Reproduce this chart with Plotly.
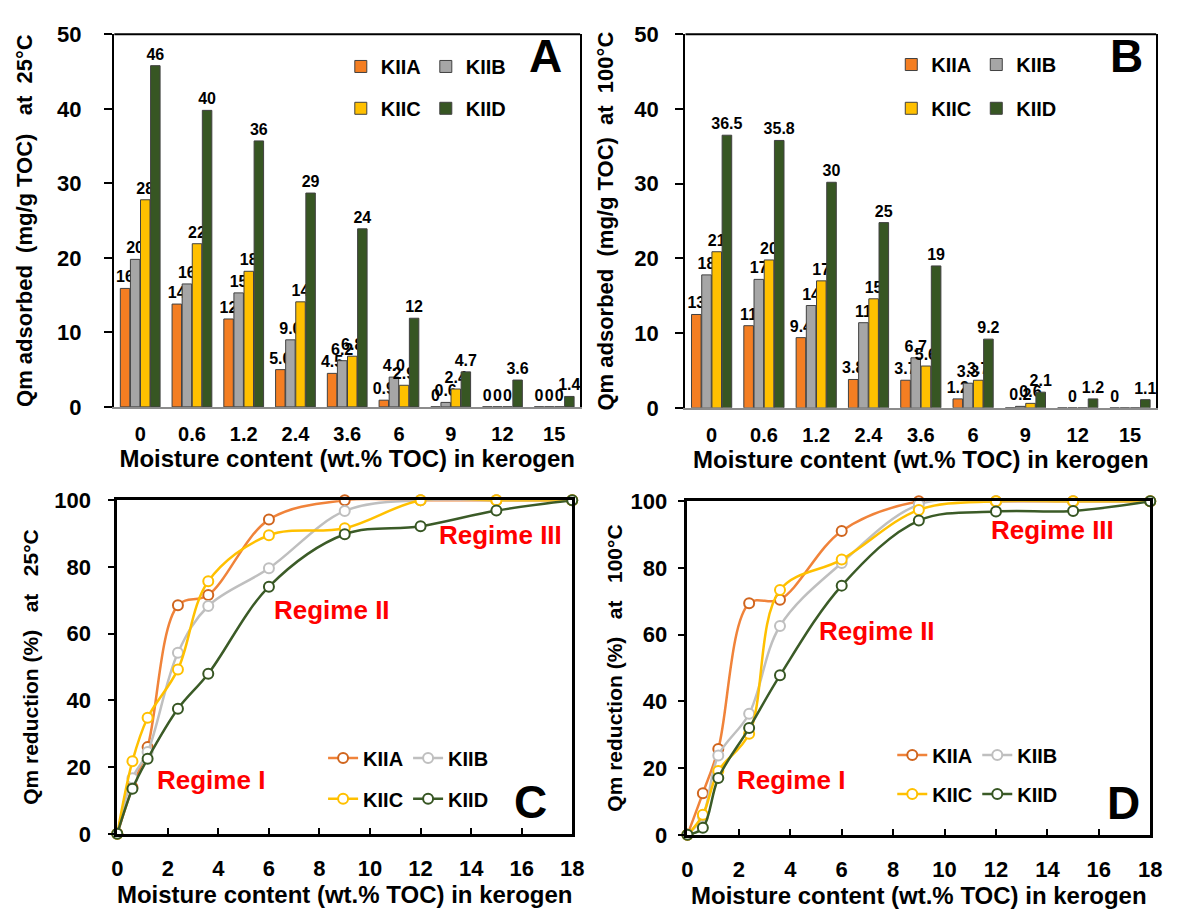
import plotly.graph_objects as go

# ---------------- data ----------------
moisture_cats = ["0", "0.6", "1.2", "2.4", "3.6", "6", "9", "12", "15"]
series_names = ["KIIA", "KIIB", "KIIC", "KIID"]

# Panel A: Qm adsorbed at 25 C (mg/g TOC)
qm25_KIIA = [15.9, 13.8, 11.8, 5.0, 4.5, 0.9, 0, 0, 0]
qm25_KIIB = [19.8, 16.5, 15.3, 9.0, 6.2, 4.0, 0.6, 0, 0]
qm25_KIIC = [27.8, 21.9, 18.2, 14.1, 6.8, 2.9, 2.4, 0, 0]
qm25_KIID = [45.8, 39.8, 35.7, 28.7, 23.9, 11.9, 4.7, 3.6, 1.4]
lab25_KIIA = ["16", "14", "12", "5.0", "4.5", "0.9", "0", "0", "0"]
lab25_KIIB = ["20", "16", "15", "9.0", "6.2", "4.0", "0.6", "0", "0"]
lab25_KIIC = ["28", "22", "18", "14", "6.8", "2.9", "2.4", "0", "0"]
lab25_KIID = ["46", "40", "36", "29", "24", "12", "4.7", "3.6", "1.4"]

# Panel B: Qm adsorbed at 100 C (mg/g TOC)
qm100_KIIA = [12.5, 11.0, 9.4, 3.8, 3.7, 1.2, 0, 0, 0]
qm100_KIIB = [17.8, 17.2, 13.7, 11.4, 6.7, 3.3, 0.2, 0, 0]
qm100_KIIC = [20.9, 19.8, 17.0, 14.6, 5.6, 3.7, 0.6, 0, 0]
qm100_KIID = [36.5, 35.8, 30.2, 24.8, 19.0, 9.2, 2.1, 1.2, 1.1]
lab100_KIIA = ["13", "11", "9.4", "3.8", "3.7", "1.2", "", "", "0"]
lab100_KIIB = ["18", "17", "14", "11", "6.7", "3.3", "0.2", "0", ""]
lab100_KIIC = ["21", "20", "17", "15", "5.6", "3.7", "0.6", "", ""]
lab100_KIID = ["36.5", "35.8", "30", "25", "19", "9.2", "2.1", "1.2", "1.1"]

# Panels C/D: Qm reduction (%)
moisture_x = [0, 0.6, 1.2, 2.4, 3.6, 6, 9, 12, 15, 18]
red25_KIIA = [0, 14.0, 26.0, 68.5, 71.6, 94.2, 100, 100, 100, 100]
red25_KIIB = [0, 16.7, 24.5, 54.3, 68.3, 79.6, 96.8, 100, 100, 100]
red25_KIIC = [0, 21.8, 34.8, 49.3, 75.7, 89.5, 91.6, 100, 100, 100]
red25_KIID = [0, 13.5, 22.5, 37.5, 48.0, 74.1, 89.8, 92.2, 96.9, 100]

red100_KIIA = [0, 12.5, 25.7, 69.4, 70.5, 91.1, 100, 100, 100, 100]
red100_KIIB = [0, 5.6, 23.8, 36.3, 62.6, 81.5, 99.0, 100, 100, 100]
red100_KIIC = [0, 6.0, 19.1, 30.3, 73.4, 82.5, 97.4, 100, 100, 100]
red100_KIID = [0, 2.1, 17.0, 32.0, 47.8, 74.7, 94.2, 96.9, 97.1, 100]

# ---------------- styles ----------------
W, H = 1179, 913
FONT = "Liberation Sans, Arial, sans-serif"
bar_colors = ["#F47E22", "#A6A6A6", "#FFC000", "#375623"]
line_colors = ["#F0833A", "#BFBFBF", "#FFC000", "#3B5B27"]
marker_edge = ["#D0651E", "#BFBFBF", "#FFC000", "#375623"]
NB = "\u00a0"


def px(x):
    return x / W


def py(y):
    return 1 - y / H


fig = go.Figure()

bar_sets = [
    ("x", "y", [qm25_KIIA, qm25_KIIB, qm25_KIIC, qm25_KIID],
     [lab25_KIIA, lab25_KIIB, lab25_KIIC, lab25_KIID], ["legend", "legend", "legend2", "legend2"]),
    ("x2", "y2", [qm100_KIIA, qm100_KIIB, qm100_KIIC, qm100_KIID],
     [lab100_KIIA, lab100_KIIB, lab100_KIIC, lab100_KIID], ["legend3", "legend3", "legend4", "legend4"]),
]
for xa, ya, vals, labs, legs in bar_sets:
    for i, name in enumerate(series_names):
        fig.add_trace(go.Bar(
            x=moisture_cats, y=vals[i], name=name, text=labs[i],
            textposition="outside", constraintext="none", cliponaxis=False,
            textfont=dict(family=FONT, size=16, color="black", weight="bold"),
            marker=dict(color=bar_colors[i], line=dict(color="#404040", width=1)),
            xaxis=xa, yaxis=ya, legend=legs[i], hoverinfo="skip",
        ))

line_sets = [
    ("x3", "y3", [red25_KIIA, red25_KIIB, red25_KIIC, red25_KIID], ["legend5", "legend5", "legend6", "legend6"]),
    ("x4", "y4", [red100_KIIA, red100_KIIB, red100_KIIC, red100_KIID], ["legend7", "legend7", "legend8", "legend8"]),
]
for xa, ya, vals, legs in line_sets:
    for i, name in enumerate(series_names):
        fig.add_trace(go.Scatter(
            x=moisture_x, y=vals[i], name=name, mode="lines+markers",
            line=dict(color=line_colors[i], width=2.5, shape="spline", smoothing=1.0),
            marker=dict(size=10, color="white", line=dict(color=marker_edge[i], width=2)),
            cliponaxis=False, xaxis=xa, yaxis=ya, legend=legs[i], hoverinfo="skip",
        ))

tickfont = dict(family=FONT, size=22, color="black", weight="bold")
titlefont_bar = dict(family=FONT, size=22, color="black", weight="bold")
titlefont_line = dict(family=FONT, size=21, color="black", weight="bold")
xtitlefont = dict(family=FONT, size=24, color="black", weight="bold")

# domains
dA_x = [px(110), px(583)]
dA_y = [py(406), py(23)]
dB_x = [px(690), px(1168)]
dB_y = [py(407), py(23)]
dC_x = [px(113), px(575)]
dC_y = [py(845), py(502)]
dD_x = [px(692), px(1162)]
dD_y = [py(846), py(503)]

bar_x = dict(type="category", showline=True, linecolor="#8C8C8C", linewidth=2,
             ticks="", tickfont=dict(family=FONT, size=20, color="black", weight="bold"),
             ticklabelstandoff=8, showgrid=False, zeroline=False,
             title=dict(text="Moisture content (wt.% TOC) in kerogen", font=xtitlefont, standoff=4))
bar_y = dict(range=[0, 50], dtick=10, showline=True, linecolor="black", linewidth=2, mirror=True,
             ticks="outside", ticklen=8, tickwidth=1.5, tickcolor="black", tickfont=tickfont,
             showgrid=False, zeroline=False)
line_x = dict(range=[0, 18], dtick=2, showline=True, linecolor="black", linewidth=2.5, mirror=True,
              ticks="inside", ticklen=6, tickwidth=1.5, tickcolor="black", tickfont=tickfont,
              ticklabelstandoff=13, showgrid=False, zeroline=False,
              title=dict(text="Moisture content (wt.% TOC) in kerogen", font=xtitlefont, standoff=0))
line_y = dict(range=[0, 100], dtick=20, showline=True, linecolor="black", linewidth=2.5, mirror=True,
              ticks="outside", ticklen=7, tickwidth=1.5, tickcolor="black", tickfont=tickfont,
              showgrid=False, zeroline=False)

fig.update_layout(
    width=W, height=H, margin=dict(l=0, r=0, t=0, b=0),
    paper_bgcolor="white", plot_bgcolor="white",
    font=dict(family=FONT, color="black"),
    bargap=0.22, bargroupgap=0.06, barmode="group",
    xaxis=dict(bar_x, domain=dA_x, anchor="y"),
    yaxis=dict(bar_y, domain=dA_y, anchor="x", ticksuffix=NB * 3,
               title=dict(text="Qm adsorbed  (mg/g TOC)   at  25°C", font=titlefont_bar, standoff=18)),
    xaxis2=dict(bar_x, domain=dB_x, anchor="y2"),
    yaxis2=dict(bar_y, domain=dB_y, anchor="x2", ticksuffix=NB * 2,
                title=dict(text="Qm adsorbed  (mg/g TOC)  at  100°C", font=titlefont_bar, standoff=15)),
    xaxis3=dict(line_x, domain=dC_x, anchor="y3"),
    yaxis3=dict(line_y, domain=dC_y, anchor="x3", ticksuffix=NB * 2,
                title=dict(text="Qm reduction (%)   at   25°C", font=titlefont_line, standoff=10)),
    xaxis4=dict(line_x, domain=dD_x, anchor="y4"),
    yaxis4=dict(line_y, domain=dD_y, anchor="x4", ticksuffix=NB,
                title=dict(text="Qm reduction (%)   at   100°C", font=titlefont_line, standoff=3)),
)

legfont = dict(family=FONT, size=20, color="black", weight="bold")


def leg(x, y):
    return dict(x=px(x), y=py(y), xanchor="left", yanchor="middle", orientation="h",
                bgcolor="rgba(0,0,0,0)", borderwidth=0, font=legfont, itemwidth=30,
                traceorder="normal", tracegroupgap=0)


fig.update_layout(
    legend=leg(340, 56), legend2=leg(340, 99),
    legend3=leg(899, 54), legend4=leg(899, 99),
    legend5=leg(322, 767), legend6=leg(322, 809),
    legend7=leg(900, 764), legend8=leg(900, 804),
)

# frame top edge for bar panels
for xa, ya in [("x", "y"), ("x2", "y2")]:
    fig.add_shape(type="line", xref=f"{xa} domain", yref=f"{ya} domain",
                  x0=0, x1=1, y0=1, y1=1, line=dict(color="black", width=2))

letter_font = dict(family=FONT, size=46, color="black", weight="bold")
for txt, x, y in [("A", 548, 45), ("B", 1138, 45), ("C", 533, 812), ("D", 1135, 813)]:
    fig.add_annotation(text=txt, x=px(x), y=py(y), xref="paper", yref="paper",
                       showarrow=False, font=letter_font, xanchor="center", yanchor="middle")

regime_font = dict(family=FONT, size=26, color="#FF0000", weight="bold")
for txt, x, y, xa, ya in [
    ("Regime I", 3.7, 16, "x3", "y3"), ("Regime II", 8.5, 67, "x3", "y3"), ("Regime III", 15.15, 89.5, "x3", "y3"),
    ("Regime I", 4.04, 16.3, "x4", "y4"), ("Regime II", 7.38, 61, "x4", "y4"), ("Regime III", 14.2, 91.3, "x4", "y4"),
]:
    fig.add_annotation(text=txt, x=x, y=y, xref=xa, yref=ya, showarrow=False, font=regime_font,
                       xanchor="center", yanchor="middle")

fig.write_html("out.html")
